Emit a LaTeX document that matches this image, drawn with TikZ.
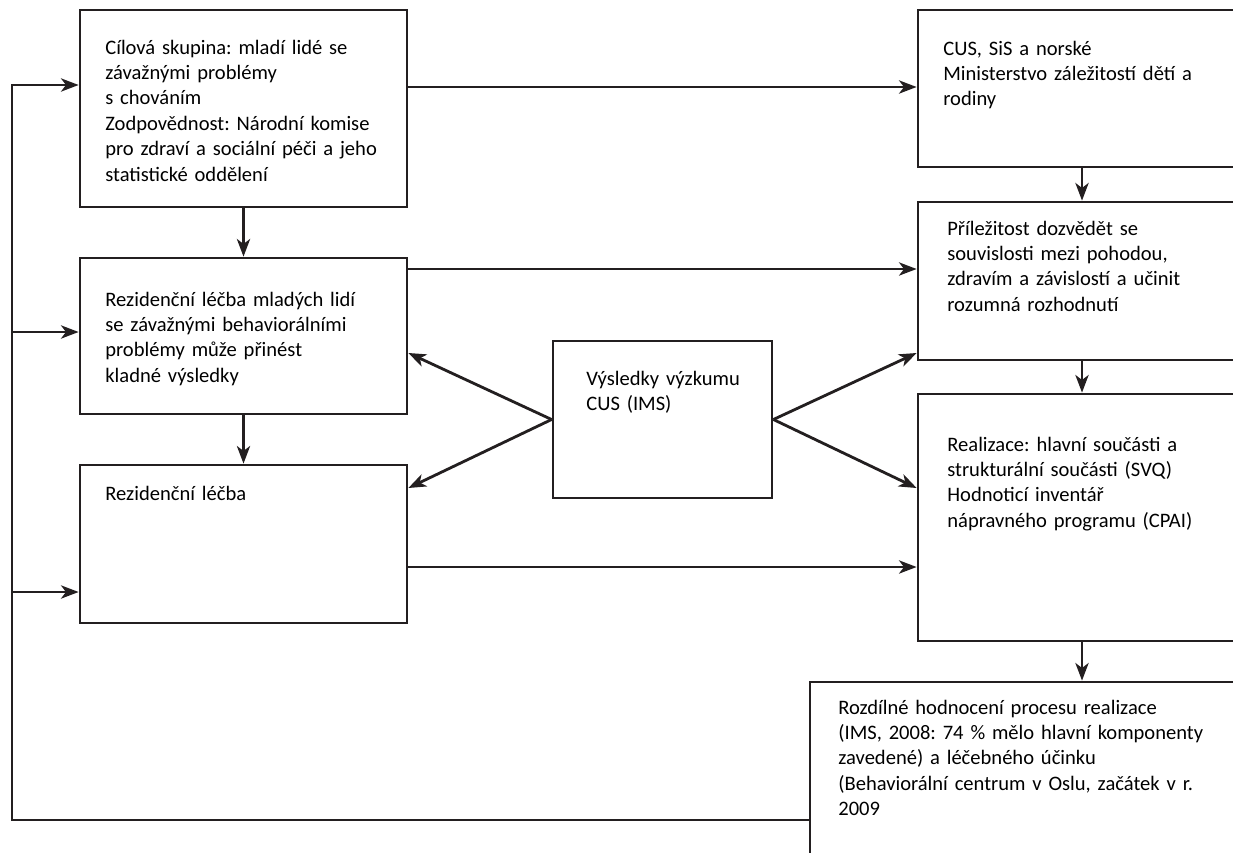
\documentclass[tikz,border=0pt]{standalone}
\usepackage{fontspec}
\setmainfont{Carlito}
\usetikzlibrary{arrows.meta}
\definecolor{ink}{HTML}{231F20}
\frenchspacing

\begin{document}
\begin{tikzpicture}[x=0.02cm, y=-0.02cm,
        box/.style={rectangle, draw=ink, line width=1.6pt, inner sep=0pt},
        txt/.style={anchor=base west, align=left, text width=8cm, inner sep=0pt, font=\fontsize{11.7}{14.5}\selectfont},
        arr/.style={-{Stealth[length=10pt, width=7.5pt, inset=2.8pt]}, color=ink, line width=1.6pt}
    ]
        \useasboundingbox (0,0) rectangle (1233,852);
        \clip (0,0) rectangle (1233,852);

        % Levy sloupec
        \node[box, minimum width=6.54cm, minimum height=3.94cm] (tgt) at (243.5,108.5) {};
        \node[box, minimum width=6.54cm, minimum height=3.12cm] (resm) at (243.5,336) {};
        \node[box, minimum width=6.54cm, minimum height=3.16cm] (res) at (243.5,544) {};

        % Vysledky vyzkumu
        \node[box, minimum width=4.38cm, minimum height=3.14cm] (vys) at (662.5,419.5) {};

        % Pravy sloupec
        \node[box, minimum width=6.56cm, minimum height=3.14cm] (cus) at (1082,88.5) {};
        \node[box, minimum width=6.56cm, minimum height=3.16cm] (prl) at (1082,281) {};
        \node[box, minimum width=6.56cm, minimum height=4.94cm] (real) at (1082,517.5) {};
        \node[box, minimum width=10.88cm, minimum height=4.4cm] (hod) at (1082,792) {};

        % Texty
        \node[txt] (tgt-t) at (105,54) {Cílová skupina: mladí lidé se\\závažnými problémy\\s chováním\\Zodpovědnost: Národní komise\\pro zdraví a sociální péči a jeho\\statistické oddělení};
        \node[txt] (resm-t) at (105,306) {Rezidenční léčba mladých lidí\\se závažnými behaviorálními\\problémy může přinést\\kladné výsledky};
        \node[txt] (res-t) at (105,500) {Rezidenční léčba};
        \node[txt] (vys-t) at (586,385) {Výsledky výzkumu\\CUS (IMS)};
        \node[txt] (cus-t) at (943,55) {CUS, SiS a norské\\Ministerstvo záležitostí dětí a\\rodiny};
        \node[txt] (prl-t) at (947,235) {Příležitost dozvědět se\\souvislosti mezi pohodou,\\zdravím a závislostí a učinit\\rozumná rozhodnutí};
        \node[txt] (real-t) at (947,451) {Realizace: hlavní součásti a\\strukturální součásti (SVQ)\\Hodnoticí inventář\\nápravného programu (CPAI)};
        \node[txt] (hod-t) at (838,714) {Rozdílné hodnocení procesu realizace\\(IMS, 2008: 74 \% mělo hlavní komponenty\\zavedené) a léčebného účinku\\(Behaviorální centrum v Oslu, začátek v r.\\2009};

        % Urovne vodorovnych sipek
        \coordinate (y1) at (0,87);
        \coordinate (y2) at (0,269);
        \coordinate (y3) at (0,567);
        \coordinate (p1) at (0,353);
        \coordinate (p2) at (0,488);

        % Svisle sipky
        \draw[arr] (tgt) -- (resm);
        \draw[arr] (resm) -- (res);
        \draw[arr] (cus) -- (prl);
        \draw[arr] (prl) -- (real);
        \draw[arr] (real) -- (hod);

        % Vodorovne sipky
        \draw[arr] (tgt.east |- y1) -- (cus.west |- y1);
        \draw[arr] (resm.east |- y2) -- (prl.west |- y2);
        \draw[arr] (res.east |- y3) -- (real.west |- y3);

        % Z vysledku vyzkumu
        \draw[arr] (vys.west) -- (resm.east |- p1);
        \draw[arr] (vys.west) -- (res.east |- p2);
        \draw[arr] (vys.east) -- (prl.west |- p1);
        \draw[arr] (vys.east) -- (real.west |- p2);

        % Zpetna vazba
        \coordinate (fb) at (12,820);
        \coordinate (l1) at (12,85);
        \coordinate (l2) at (12,332);
        \coordinate (l3) at (12,592);
        \draw[arr] (hod.west |- fb) -- (fb) |- (tgt.west |- l1);
        \draw[arr] (l2) -- (resm.west |- l2);
        \draw[arr] (l3) -- (res.west |- l3);
    \end{tikzpicture}
\end{document}
